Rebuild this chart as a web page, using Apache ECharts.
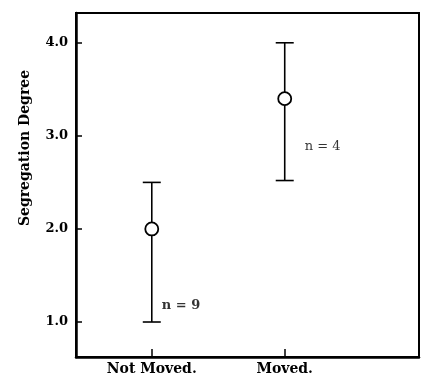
<!DOCTYPE html>
<html>
<head>
<meta charset="utf-8">
<script src="https://cdn.jsdelivr.net/npm/echarts@6/dist/echarts.min.js"></script>
<style>html,body{margin:0;padding:0;background:#fff}#c{width:421px;height:385px}</style>
</head>
<body>
<div id="c"></div>
<script>
const categories = ['Not Moved.', 'Moved.'];
const categoryPos = [1, 2];
const means = [2.0, 3.4];
const lows = [1.0, 2.52];
const highs = [2.5, 4.0];
const yTicks = [1, 2, 3, 4];
const annotations = [
  { text: 'n = 9', x: 1.075, y: 1.18, bold: true },
  { text: 'n = 4', x: 2.15, y: 2.88, bold: false }
];

const FONT = 'DejaVu Serif';
const chart = echarts.init(document.getElementById('c'), null, { renderer: 'canvas' });

chart.setOption({
  animation: false,
  backgroundColor: '#fff',
  grid: { left: 76, right: 2, top: 13, bottom: 28, show: true, borderColor: '#000', borderWidth: 2 },
  xAxis: {
    type: 'value', min: 0.43, max: 3.01,
    splitLine: { show: false },
    axisLine: { show: true, lineStyle: { color: '#000', width: 2.5 } },
    axisTick: { show: true, inside: true, length: 8, customValues: categoryPos, lineStyle: { color: '#000', width: 1.5 } },
    axisLabel: {
      customValues: categoryPos,
      formatter: v => categories[categoryPos.indexOf(Math.round(v))] || '',
      color: '#000', fontFamily: FONT, fontWeight: 'bold', fontSize: 14, margin: 5
    }
  },
  yAxis: {
    type: 'value', min: 0.624, max: 4.32,
    splitLine: { show: false },
    axisLine: { show: true, lineStyle: { color: '#000', width: 2.5 } },
    axisTick: { show: true, inside: true, length: 6, customValues: yTicks, lineStyle: { color: '#000', width: 1.5 } },
    axisLabel: {
      customValues: yTicks,
      formatter: v => v.toFixed(1),
      color: '#000', fontFamily: FONT, fontWeight: 'bold', fontSize: 13, margin: 8
    }
  },
  graphic: [{
    type: 'text', x: 25, y: 148, rotation: Math.PI / 2,
    style: { text: 'Segregation Degree', fill: '#000', font: 'bold 14px "DejaVu Serif"', align: 'center', verticalAlign: 'middle' }
  }],
  series: [
    {
      type: 'custom',
      data: categoryPos.map((x, i) => [x, lows[i], highs[i]]),
      renderItem: function (params, api) {
        const x = api.value(0);
        const lo = api.coord([x, api.value(1)]);
        const hi = api.coord([x, api.value(2)]);
        const cap = 9;
        const st = { stroke: '#000', lineWidth: 1.6 };
        return {
          type: 'group',
          children: [
            { type: 'line', shape: { x1: lo[0], y1: lo[1], x2: hi[0], y2: hi[1] }, style: st },
            { type: 'line', shape: { x1: lo[0] - cap, y1: lo[1], x2: lo[0] + cap, y2: lo[1] }, style: st },
            { type: 'line', shape: { x1: hi[0] - cap, y1: hi[1], x2: hi[0] + cap, y2: hi[1] }, style: st }
          ]
        };
      },
      z: 2
    },
    {
      type: 'scatter',
      data: categoryPos.map((x, i) => [x, means[i]]),
      symbol: 'circle', symbolSize: 13,
      itemStyle: { color: '#fff', borderColor: '#000', borderWidth: 1.8, opacity: 1 },
      z: 5
    },
    {
      type: 'scatter',
      data: annotations.map(a => ({
        value: [a.x, a.y],
        label: { fontWeight: a.bold ? 'bold' : 'normal' }
      })),
      symbolSize: 0,
      label: {
        show: true, position: 'right', distance: 0,
        formatter: p => annotations[p.dataIndex].text,
        color: '#000', fontFamily: FONT, fontSize: 13
      },
      z: 6
    }
  ]
});
</script>
</body>
</html>
